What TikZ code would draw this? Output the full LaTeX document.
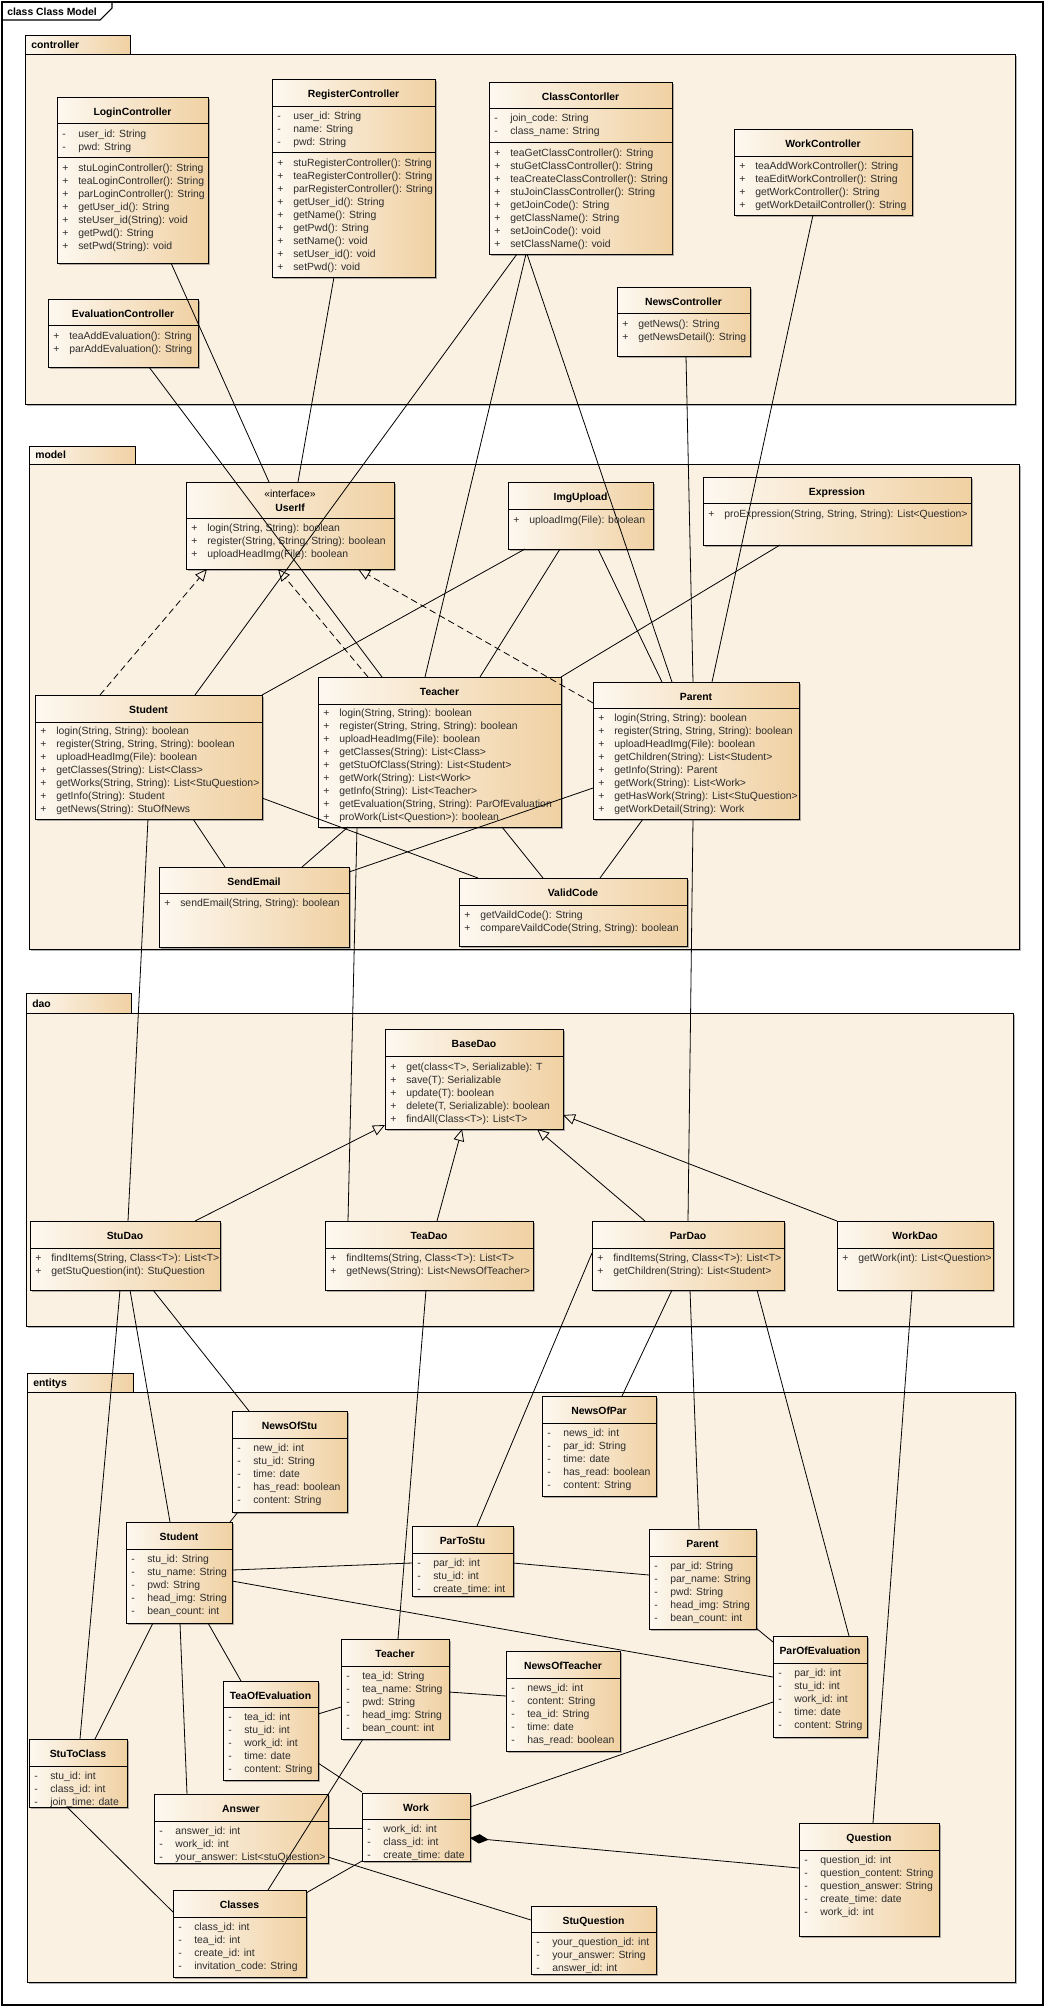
\documentclass[tikz,border=0pt]{standalone}
\usepackage{fontspec}
\setmainfont{Liberation Sans}
\usetikzlibrary{arrows.meta,shadows,fit,calc}
\definecolor{clsL}{RGB}{253,248,240}
\definecolor{clsR}{RGB}{240,209,163}
\definecolor{pkgbg}{RGB}{251,241,227}
\definecolor{txt}{RGB}{45,45,45}
\newcommand\fs{\fontsize{7.8}{9.4}\selectfont}
\tikzset{
  x=0.75pt, y=-0.75pt,
  clsbox/.style={draw=black, line width=0.7pt, left color=clsL, right color=clsR,
    inner sep=0pt, outer sep=0pt,
    drop shadow={shadow xshift=1.8pt, shadow yshift=-1.8pt, opacity=0.3, fill=black}},
  pkgbody/.style={draw=black, line width=0.7pt, fill=pkgbg, inner sep=0pt, outer sep=0pt,
    drop shadow={shadow xshift=1.8pt, shadow yshift=-1.8pt, opacity=0.3, fill=black}},
  rowt/.style={anchor=base west, inner sep=0pt, font=\fs, text=txt},
  ttl/.style={anchor=base, inner sep=0pt, font=\fs\bfseries, text=black},
  con/.style={line width=0.6pt, draw=black},
  real/.style={con, dash pattern=on 5pt off 3pt, -{Triangle[open,length=9pt,width=8pt]}},
  gen/.style={con, -{Triangle[open,length=9pt,width=8pt]}},
  comp/.style={con, {Diamond[length=14pt,width=7pt]}-}
}
% class box: name, x1, y1, x2, y2, header bottom, title
\newcommand\cls[7]{%
  \expandafter\gdef\csname ox#1\endcsname{#2}%
  \expandafter\gdef\csname oy#1\endcsname{#3}%
  \node[clsbox, fit={(#2,#3) (#4,#5)}] (#1) {};
  \draw[line width=0.7pt] (#2,#6) -- (#4,#6);
  \node[ttl] at ({(#2+#4)/2},{(#3+#6)/2+5}) {#7};
}
\newcommand\divider[2]{\draw[line width=0.7pt] (#1.west |- 0,#2) -- (#1.east |- 0,#2);}
% rows: node, symbol, first row centre y, list
\newcommand\rows[4]{%
  \foreach \t [count=\i from 0] in {#4} {
    \node[rowt] at ({\csname ox#1\endcsname+5},{#3+13*\i+3.8}) {#2};
    \node[rowt] at ({\csname ox#1\endcsname+21},{#3+13*\i+3.8}) {\t};
  }}
% end point on a node, given in picture pixels
\newcommand\ep[3]{([shift={(#2-\csname ox#1\endcsname,#3-\csname oy#1\endcsname)}]#1.north west)}
% package: name, x1, tab top, tab right, body top, x2, bottom, label
\newcommand\pkg[8]{%
  \draw[line width=0.7pt, left color=clsL, right color=clsR] (#2,#3) rectangle (#4,#5);
  \node[pkgbody, fit={(#2,#5) (#6,#7)}] (#1) {};
  \node[anchor=base west, inner sep=0pt, font=\fs\bfseries] (#1lbl) at (#2+6,#5-6) {#8};
}
\begin{document}
\catcode`\_=12
\begin{tikzpicture}
\useasboundingbox (0,0) rectangle (1046,2007);
\fill[white] (0,0) rectangle (1046,2007);
% frame
\node[draw=black, line width=0.8pt, fit={(2,2) (1043,2005)}, inner sep=0pt] (frame) {};
\draw[line width=0.8pt] (2,20) -- (100,20) -- (112,8) -- (112,2);
\node[anchor=base west, inner sep=0pt, font=\fs\bfseries] (frameTitle) at (7,15) {class Class Model};

% packages
\pkg{pController}{25}{35}{130}{54}{1015}{404}{controller}
\pkg{pModel}{29}{446}{135}{464}{1019}{949}{model}
\pkg{pDao}{26}{993}{131}{1013}{1013}{1326}{dao}
\pkg{pEntitys}{27}{1373}{133}{1392}{1015}{1982}{entitys}

% ---------- controller ----------
\cls{LoginC}{57}{97}{208}{263}{123}{LoginController}
\divider{LoginC}{157}
\rows{LoginC}{-}{134}{user_id: String, pwd: String}
\rows{LoginC}{+}{168}{stuLoginController(): String, teaLoginController(): String, parLoginController(): String, getUser_id(): String, steUser_id(String): void, getPwd(): String, setPwd(String): void}

\cls{RegC}{272}{79}{435}{277}{106}{RegisterController}
\divider{RegC}{152}
\rows{RegC}{-}{116}{user_id: String, name: String, pwd: String}
\rows{RegC}{+}{163}{stuRegisterController(): String, teaRegisterController(): String, parRegisterController(): String, getUser_id(): String, getName(): String, getPwd(): String, setName(): void, setUser_id(): void, setPwd(): void}

\cls{ClassC}{489}{82}{672}{254}{108}{ClassContorller}
\divider{ClassC}{142}
\rows{ClassC}{-}{118}{join_code: String, class_name: String}
\rows{ClassC}{+}{153}{teaGetClassController(): String, stuGetClassController(): String, teaCreateClassController(): String, stuJoinClassController(): String, getJoinCode(): String, getClassName(): String, setJoinCode(): void, setClassName(): void}

\cls{WorkC}{734}{129}{912}{215}{156}{WorkController}
\rows{WorkC}{+}{166}{teaAddWorkController(): String, teaEditWorkController(): String, getWorkController(): String, getWorkDetailController(): String}

\cls{EvalC}{48}{299}{198}{367}{325}{EvaluationController}
\rows{EvalC}{+}{336}{teaAddEvaluation(): String, parAddEvaluation(): String}

\cls{NewsC}{617}{287}{750}{356}{313}{NewsController}
\rows{NewsC}{+}{324}{getNews(): String, getNewsDetail(): String}

% ---------- model ----------
\cls{UserIf}{186}{482}{394}{569}{518}{}
\node[anchor=base, inner sep=0pt, font=\fs] (UserIfSt) at (290,497) {«interface»};
\node[ttl] (UserIfName) at (290,511) {UserIf};
\rows{UserIf}{+}{528}{{login(String, String): boolean}, {register(String, String, String): boolean}, uploadHeadImg(File): boolean}

\cls{ImgUp}{508}{482}{653}{549}{509}{ImgUpload}
\rows{ImgUp}{+}{520}{uploadImg(File): boolean}

\cls{Expr}{703}{477}{971}{545}{503}{Expression}
\rows{Expr}{+}{514}{{proExpression(String, String, String): List<Question>}}

\cls{mStudent}{35}{695}{262}{819}{722}{Student}
\rows{mStudent}{+}{731}{{login(String, String): boolean}, {register(String, String, String): boolean}, uploadHeadImg(File): boolean, getClasses(String): List<Class>, {getWorks(String, String): List<StuQuestion>}, getInfo(String): Student, getNews(String): StuOfNews}

\cls{mTeacher}{318}{677}{561}{827}{704}{Teacher}
\rows{mTeacher}{+}{713}{{login(String, String): boolean}, {register(String, String, String): boolean}, uploadHeadImg(File): boolean, getClasses(String): List<Class>, getStuOfClass(String): List<Student>, getWork(String): List<Work>, getInfo(String): List<Teacher>, {getEvaluation(String, String): ParOfEvaluation}, proWork(List<Question>): boolean}

\cls{mParent}{593}{682}{799}{819}{708}{Parent}
\rows{mParent}{+}{718}{{login(String, String): boolean}, {register(String, String, String): boolean}, uploadHeadImg(File): boolean, getChildren(String): List<Student>, getInfo(String): Parent, getWork(String): List<Work>, getHasWork(String): List<StuQuestion>, getWorkDetail(String): Work}

\cls{SendEmail}{159}{867}{349}{947}{893}{SendEmail}
\rows{SendEmail}{+}{903}{{sendEmail(String, String): boolean}}

\cls{ValidCode}{459}{878}{687}{946}{905}{ValidCode}
\rows{ValidCode}{+}{915}{getVaildCode(): String, {compareVaildCode(String, String): boolean}}

% ---------- dao ----------
\cls{BaseDao}{385}{1029}{563}{1129}{1056}{BaseDao}
\rows{BaseDao}{+}{1067}{{get(class<T>, Serializable): T}, save(T): Serializable, update(T): boolean, {delete(T, Serializable): boolean}, findAll(Class<T>): List<T>}

\cls{StuDao}{30}{1221}{220}{1290}{1248}{StuDao}
\rows{StuDao}{+}{1258}{{findItems(String, Class<T>): List<T>}, getStuQuestion(int): StuQuestion}
\cls{TeaDao}{325}{1221}{533}{1290}{1248}{TeaDao}
\rows{TeaDao}{+}{1258}{{findItems(String, Class<T>): List<T>}, getNews(String): List<NewsOfTeacher>}
\cls{ParDao}{592}{1221}{784}{1290}{1248}{ParDao}
\rows{ParDao}{+}{1258}{{findItems(String, Class<T>): List<T>}, getChildren(String): List<Student>}
\cls{WorkDao}{837}{1221}{993}{1290}{1248}{WorkDao}
\rows{WorkDao}{+}{1258}{getWork(int): List<Question>}

% ---------- entitys ----------
\cls{NewsOfStu}{232}{1411}{347}{1512}{1438}{NewsOfStu}
\rows{NewsOfStu}{-}{1448}{new_id: int, stu_id: String, time: date, has_read: boolean, content: String}
\cls{NewsOfPar}{542}{1396}{656}{1496}{1423}{NewsOfPar}
\rows{NewsOfPar}{-}{1433}{news_id: int, par_id: String, time: date, has_read: boolean, content: String}
\cls{eStudent}{126}{1522}{232}{1623}{1549}{Student}
\rows{eStudent}{-}{1559}{stu_id: String, stu_name: String, pwd: String, head_img: String, bean_count: int}
\cls{ParToStu}{412}{1526}{513}{1596}{1553}{ParToStu}
\rows{ParToStu}{-}{1563}{par_id: int, stu_id: int, create_time: int}
\cls{eParent}{649}{1529}{756}{1629}{1556}{Parent}
\rows{eParent}{-}{1566}{par_id: String, par_name: String, pwd: String, head_img: String, bean_count: int}
\cls{eTeacher}{341}{1639}{449}{1739}{1666}{Teacher}
\rows{eTeacher}{-}{1676}{tea_id: String, tea_name: String, pwd: String, head_img: String, bean_count: int}
\cls{NewsOfTea}{506}{1651}{620}{1751}{1678}{NewsOfTeacher}
\rows{NewsOfTea}{-}{1688}{news_id: int, content: String, tea_id: String, time: date, has_read: boolean}
\cls{ParOfEval}{773}{1636}{867}{1737}{1663}{ParOfEvaluation}
\rows{ParOfEval}{-}{1673}{par_id: int, stu_id: int, work_id: int, time: date, content: String}
\cls{TeaOfEval}{223}{1681}{318}{1780}{1707}{TeaOfEvaluation}
\rows{TeaOfEval}{-}{1717}{tea_id: int, stu_id: int, work_id: int, time: date, content: String}
\cls{StuToClass}{29}{1739}{127}{1807}{1766}{StuToClass}
\rows{StuToClass}{-}{1776}{stu_id: int, class_id: int, join_time: date}
\cls{Answer}{154}{1794}{328}{1863}{1821}{Answer}
\rows{Answer}{-}{1831}{answer_id: int, work_id: int, your_answer: List<stuQuestion>}
\cls{Work}{362}{1793}{470}{1861}{1819}{Work}
\rows{Work}{-}{1829}{work_id: int, class_id: int, create_time: date}
\cls{Question}{799}{1823}{939}{1936}{1850}{Question}
\rows{Question}{-}{1860}{question_id: int, question_content: String, question_answer: String, create_time: date, work_id: int}
\cls{Classes}{173}{1890}{306}{1977}{1917}{Classes}
\rows{Classes}{-}{1927}{class_id: int, tea_id: int, create_id: int, invitation_code: String}
\cls{StuQuestion}{531}{1906}{656}{1974}{1932}{StuQuestion}
\rows{StuQuestion}{-}{1942}{your_question_id: int, your_answer: String, answer_id: int}

% ---------- connectors ----------
\draw[con] \ep{LoginC}{171}{263} -- \ep{UserIf}{269}{482};
\draw[con] \ep{EvalC}{149}{367} -- \ep{mTeacher}{382}{677};
\draw[con] \ep{RegC}{334}{277} -- \ep{UserIf}{298}{482};
\draw[con] \ep{ClassC}{517}{254} -- \ep{mStudent}{195}{695};
\draw[con] \ep{ClassC}{526}{254} -- \ep{mTeacher}{425}{677};
\draw[con] \ep{ClassC}{527}{254} -- \ep{mParent}{672}{682};
\draw[con] \ep{NewsC}{686}{356} -- \ep{mParent}{693}{682};
\draw[con] \ep{WorkC}{813}{215} -- \ep{mParent}{712}{682};
\draw[con] \ep{ImgUp}{525}{549} -- \ep{mStudent}{262}{695};
\draw[con] \ep{ImgUp}{560}{549} -- \ep{mTeacher}{480}{677};
\draw[con] \ep{ImgUp}{598}{549} -- \ep{mParent}{662}{682};
\draw[con] \ep{Expr}{780}{545} -- \ep{mTeacher}{561}{677};
\draw[real] \ep{mStudent}{100}{695} -- \ep{UserIf}{207}{569};
\draw[real] \ep{mTeacher}{368}{677} -- \ep{UserIf}{278}{569};
\draw[real] \ep{mParent}{593}{703} -- \ep{UserIf}{358}{569};
\draw[con] \ep{mStudent}{262}{798} -- \ep{ValidCode}{478}{878};
\draw[con] \ep{mStudent}{193}{819} -- \ep{SendEmail}{225}{867};
\draw[con] \ep{mTeacher}{348}{827} -- \ep{SendEmail}{302}{867};
\draw[con] \ep{mParent}{593}{788} -- \ep{SendEmail}{349}{872};
\draw[con] \ep{mTeacher}{502}{827} -- \ep{ValidCode}{543}{878};
\draw[con] \ep{mParent}{643}{819} -- \ep{ValidCode}{600}{878};
\draw[con] \ep{mStudent}{148}{819} -- \ep{StuDao}{128}{1221};
\draw[con] \ep{mTeacher}{357}{827} -- \ep{TeaDao}{348}{1221};
\draw[con] \ep{mParent}{693}{819} -- \ep{ParDao}{688}{1221};
\draw[gen] \ep{StuDao}{195}{1221} -- \ep{BaseDao}{385}{1125};
\draw[gen] \ep{TeaDao}{437}{1221} -- \ep{BaseDao}{462}{1129};
\draw[gen] \ep{ParDao}{645}{1221} -- \ep{BaseDao}{537}{1129};
\draw[gen] \ep{WorkDao}{837}{1221} -- \ep{BaseDao}{563}{1115};
\draw[con] \ep{StuDao}{120}{1290} -- \ep{StuToClass}{80}{1739};
\draw[con] \ep{StuDao}{130}{1290} -- \ep{eStudent}{170}{1522};
\draw[con] \ep{StuDao}{153}{1290} -- \ep{NewsOfStu}{249}{1411};
\draw[con] \ep{TeaDao}{426}{1290} -- \ep{eTeacher}{398}{1639};
\draw[con] \ep{ParDao}{592}{1253} -- \ep{ParToStu}{477}{1526};
\draw[con] \ep{ParDao}{672}{1290} -- \ep{NewsOfPar}{622}{1396};
\draw[con] \ep{ParDao}{690}{1290} -- \ep{eParent}{699}{1529};
\draw[con] \ep{ParDao}{757}{1290} -- \ep{ParOfEval}{849}{1636};
\draw[con] \ep{WorkDao}{912}{1290} -- \ep{Question}{873}{1823};
\draw[con] \ep{NewsOfStu}{238}{1512} -- \ep{eStudent}{230}{1522};
\draw[con] \ep{eStudent}{232}{1570} -- \ep{ParToStu}{412}{1563};
\draw[con] \ep{ParToStu}{513}{1563} -- \ep{eParent}{649}{1575};
\draw[con] \ep{eStudent}{232}{1581} -- \ep{ParOfEval}{773}{1677};
\draw[con] \ep{eParent}{756}{1628} -- \ep{ParOfEval}{773}{1642};
\draw[con] \ep{eTeacher}{449}{1692} -- \ep{NewsOfTea}{506}{1696};
\draw[con] \ep{TeaOfEval}{318}{1714} -- \ep{eTeacher}{341}{1707};
\draw[con] \ep{eStudent}{153}{1623} -- \ep{StuToClass}{95}{1739};
\draw[con] \ep{eStudent}{180}{1623} -- \ep{Answer}{187}{1794};
\draw[con] \ep{eStudent}{208}{1623} -- \ep{TeaOfEval}{241}{1681};
\draw[con] \ep{TeaOfEval}{318}{1763} -- \ep{Work}{362}{1792};
\draw[con] \ep{eTeacher}{363}{1739} -- \ep{Classes}{268}{1890};
\draw[con] \ep{Answer}{328}{1828} -- \ep{Work}{362}{1828};
\draw[con] \ep{Answer}{328}{1857} -- \ep{StuQuestion}{531}{1920};
\draw[con] \ep{Work}{362}{1861} -- \ep{Classes}{306}{1893};
\draw[con] \ep{StuToClass}{67}{1807} -- \ep{Classes}{173}{1912};
\draw[con] \ep{Work}{470}{1807} -- \ep{ParOfEval}{773}{1702};
\draw[comp] \ep{Work}{470}{1838} -- \ep{Question}{799}{1868};
\end{tikzpicture}
\end{document}
